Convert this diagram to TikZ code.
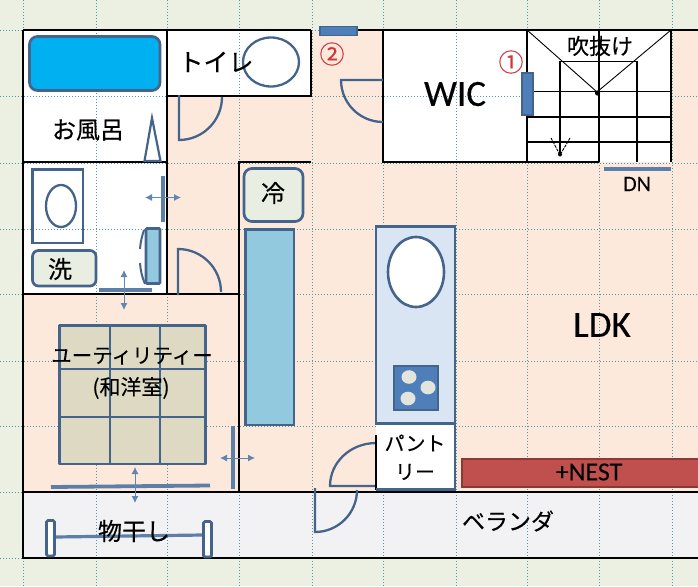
\documentclass[tikz,border=0pt]{standalone}
\usepackage{fontspec}
\setmainfont[FakeBold=0.12]{Carlito}
\newfontfamily\cjk[FakeBold=0.3]{Noto Sans CJK JP}
\usetikzlibrary{arrows.meta}
\definecolor{bgc}{HTML}{EBF0E3}
\definecolor{peach}{HTML}{FDE9DC}
\definecolor{ver}{HTML}{F2F2F4}
\definecolor{gridc}{HTML}{4F9AA8}
\definecolor{st}{HTML}{44648C}
\definecolor{barc}{HTML}{5B7FA8}
\definecolor{arr}{HTML}{5F87B0}
\definecolor{tub}{HTML}{00B0F0}
\definecolor{pale}{HTML}{92C9DE}
\definecolor{cream}{HTML}{E9EEE2}
\definecolor{tat}{HTML}{DDD9C3}
\definecolor{kit}{HTML}{DAE5F3}
\definecolor{blu}{HTML}{4F7FB8}
\definecolor{burner}{HTML}{E4E4DE}
\definecolor{nestc}{HTML}{C0504D}
\definecolor{nestd}{HTML}{8C3836}
\definecolor{redt}{HTML}{D0353A}
\tikzset{
  wall/.style={black,line width=1.7pt},
  thinwall/.style={black,line width=1.2pt},
  outl/.style={st,line width=2.7pt},
  doorline/.style={st,line width=2.3pt},
  slidebar/.style={barc,line width=3.8pt},
  twoway/.style={arr,line width=0.9pt,{Latex[length=7pt,width=7pt]}-{Latex[length=7pt,width=7pt]}},
  griddot/.style={gridc,line width=0.8pt,dash pattern=on 1.4pt off 1.6pt},
  jtext/.style={inner sep=0pt,text=black},
  lat/.style={inner sep=0pt,text=black},
}
\begin{document}
\begin{tikzpicture}[x=1pt,y=-1pt]
\useasboundingbox (0,0) rectangle (698,586);
\fill[bgc] (0,0) rectangle (698,586);
\fill[peach] (23,30) rectangle (698,492);
\fill[ver] (23,492) rectangle (698,558);
% white rooms
\fill[white] (23,30) rectangle (167,294);
\fill[white] (167,30) rectangle (311,96);
\fill[white] (383,30) rectangle (671,162);
% grid
\foreach \gx in {23,96,167,239,312,383,456,527,599,672}
  \draw[griddot] (\gx,0) -- (\gx,586);
\foreach \gy in {30,96,163,229,294,361,426,492,558}
  \draw[griddot] (0,\gy) -- (698,\gy);
\fill[white] (527,30) rectangle (671,162);
% walls
\draw[wall] (23,30) -- (311,30);
\draw[wall] (357,30) -- (698,30);
\draw[wall] (23,30) -- (23,558) -- (698,558);
\draw[wall] (23,492) -- (698,492);
\draw[wall] (167,30) -- (167,294);
\draw[wall] (167,96) -- (311,96) -- (311,30);
\draw[wall] (23,162) -- (167,162);
\draw[wall] (23,294) -- (239,294);
\draw[wall] (311,162) -- (239,162) -- (239,492);
\draw[wall] (383,30) -- (383,162) -- (527,162) -- (527,30);
% stairs
\draw[thinwall] (527,162) -- (599,162);
\draw[thinwall] (599,30) -- (599,162);
\draw[thinwall] (560,61.5) -- (560,155);
\draw[thinwall] (637,61.5) -- (637,162);
\draw[thinwall] (671,30) -- (671,162);
\draw[thinwall] (560,61.5) -- (637,61.5);
\draw[thinwall] (527,91.5) -- (671,91.5);
\draw[thinwall] (527,117) -- (671,117);
\draw[thinwall] (527,142) -- (671,142);
\draw[black,line width=0.9pt] (527,30) -- (597,92) -- (671,30);
\fill[black] (597.5,93) circle (2.6);
\draw[black,line width=0.9pt,dash pattern=on 3pt off 1pt] (551,138) -- (560,155) -- (570,138);
\fill[black] (560,154.5) circle (2);
% bath
\draw[outl,fill=tub,rounded corners=8pt] (29.5,36.5) rectangle (160,90.5);
\draw[st,line width=2.2pt,fill=white] (144.5,161) -- (152,118) -- (160.5,161) -- cycle;
% toilet
\draw[st,line width=2.3pt] (271,62) ellipse [x radius=28,y radius=24.5];
% doors
\draw[doorline] (179,95) -- (179,140) arc[start angle=90,end angle=0,radius=43];
\draw[doorline] (178,295) -- (178,249) arc[start angle=-90,end angle=0,radius=43];
\draw[doorline] (383,80) -- (341,80) arc[start angle=180,end angle=90,radius=42];
\draw[doorline] (376,486) -- (330,486) arc[start angle=180,end angle=270,x radius=46,y radius=43];
\draw[doorline] (315,488) -- (315,532) arc[start angle=90,end angle=0,radius=42];
% laundry
\draw[outl] (32.5,169.5) rectangle (83,243);
\draw[st,line width=2.3pt] (61,206) ellipse [x radius=15,y radius=21];
\draw[outl,fill=cream,rounded corners=6pt] (32.5,250.5) rectangle (96,286);
\draw[st,line width=2pt] (144,230) .. controls (142,236) and (140.5,242) .. (140,249);
\draw[st,line width=2pt] (140,263) .. controls (140.5,270) and (142,277) .. (145,284);
\draw[outl,fill=pale,rounded corners=1pt] (146,228.5) rectangle (160,283.5);
\draw[slidebar] (163,176) -- (163,221.5);
\draw[twoway] (145,197.5) -- (181,197.5);
\draw[slidebar] (99,290) -- (152,290);
\draw[twoway] (124,270) -- (124,310);
% fridge / counter
\draw[outl,fill=cream,rounded corners=8pt] (244,168.5) rectangle (303,221.5);
\draw[outl,fill=pale] (245.5,229.5) rectangle (294,425);
% tatami
\draw[outl,fill=tat,line join=round] (59.5,325.5) rectangle (205.5,464);
\draw[outl] (110,325.5) -- (110,464);
\draw[outl] (160,325.5) -- (160,464);
\draw[outl] (59.5,369) -- (205.5,369);
\draw[outl] (59.5,417) -- (205.5,417);
\draw[slidebar] (51,487) -- (210,485.5);
\draw[twoway] (135,467) -- (135,503);
\draw[slidebar] (233,426) -- (233,489);
\draw[twoway] (220,458) -- (255,458);
% drying rack
\draw[barc,line width=3.2pt] (55,537) -- (203,535);
\draw[outl,fill=white,rounded corners=1.5pt] (46.5,520.5) rectangle (54.5,556);
\draw[outl,fill=white,rounded corners=1.5pt] (203.5,521.5) rectangle (211.5,557);
% kitchen
\fill[white] (376,424) rectangle (455,490);
\draw[black,line width=1.7pt] (376,435) -- (376,490);
\draw[outl] (376,489.5) -- (455,489.5) -- (455,424);
\draw[outl,fill=kit] (376,226.5) rectangle (455,423.5);
\draw[st,line width=2.6pt,fill=white] (416,272) ellipse [x radius=28,y radius=35];
\draw[st,line width=2.4pt,fill=blu] (394,366) rectangle (438,410);
\fill[burner] (409,377) ellipse [x radius=7.5,y radius=6.8];
\fill[burner] (428,387.5) ellipse [x radius=7.5,y radius=6.8];
\fill[burner] (408,398.5) ellipse [x radius=7.5,y radius=6.8];
% nest
\draw[nestd,line width=2.4pt,fill=nestc] (462,459) rectangle (702,487);
% posts
\draw[st,line width=1.9pt,fill=blu] (522,73) rectangle (533,115);
\draw[st,line width=1.7pt,fill=blu] (320,26.5) rectangle (357,35.5);
\draw[slidebar] (604,169) -- (671,169);
% labels
\node[jtext,font=\cjk\fontsize{24}{24}\selectfont] (bathlabel) at (88,130) {お風呂};
\node[jtext,font=\cjk\fontsize{25}{25}\selectfont] (toiletlabel) at (216,62) {トイレ};
\node[jtext,font=\cjk\fontsize{24}{24}\selectfont] (reilabel) at (273,193) {冷};
\node[jtext,font=\cjk\fontsize{24}{24}\selectfont] (senlabel) at (60,269) {洗};
\node[jtext,font=\cjk\fontsize{20.5}{20.5}\selectfont] (utillabel) at (132,356) {ユーティリティー};
\node[jtext,font=\cjk\fontsize{21}{21}\selectfont] (wayolabel) at (131,388) {(和洋室)};
\node[jtext,font=\cjk\fontsize{24}{24}\selectfont] (monolabel) at (134,531) {物干し};
\node[jtext,font=\cjk\fontsize{23}{23}\selectfont] (verlabel) at (508,521) {ベランダ};
\node[jtext,font=\cjk\fontsize{20}{20}\selectfont] (pan1) at (415,443) {パント};
\node[jtext,font=\cjk\fontsize{20}{20}\selectfont] (pan2) at (415,472) {リー};
\node[jtext,font=\cjk\fontsize{22}{22}\selectfont] (fuki) at (600,46) {吹抜け};
\node[lat,font=\fontsize{37}{37}\selectfont] (ldk) at (602,325) {LDK};
\node[lat,font=\fontsize{37}{37}\selectfont] (wic) at (455,94) {WIC};
\node[lat,font=\fontsize{26}{26}\selectfont] (nestlabel) at (589,472) {+NEST};
\node[lat,font=\fontsize{22}{22}\selectfont] (dn) at (637,184) {DN};
\node[jtext,text=redt,font=\cjk\fontsize{25}{25}\selectfont] (one) at (511,62) {①};
\node[jtext,text=redt,font=\cjk\fontsize{25}{25}\selectfont] (two) at (332,54) {②};
\end{tikzpicture}
\end{document}
